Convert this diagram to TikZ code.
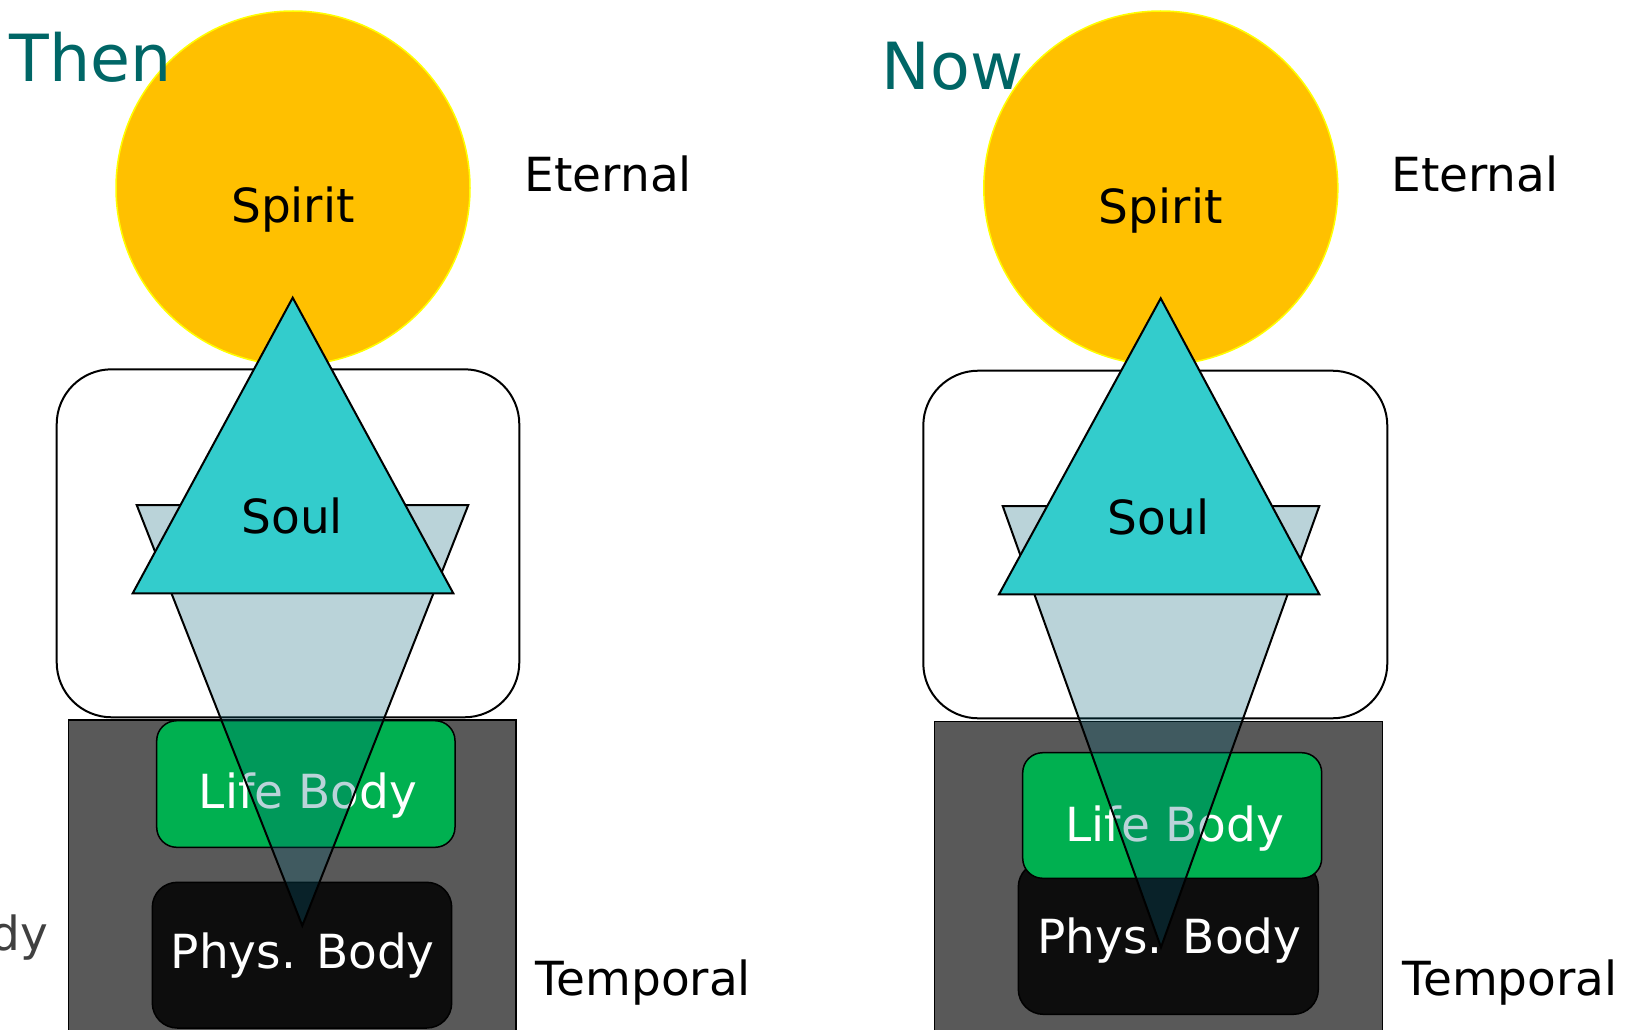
\documentclass[tikz,border=0pt]{standalone}
\usepackage{fontspec}
\setmainfont{DejaVu Sans}
\definecolor{spiritfill}{HTML}{FFC000}
\definecolor{spiritline}{HTML}{FFFF00}
\definecolor{soulcyan}{HTML}{33CCCC}
\definecolor{funnel}{RGB}{0,94,117}
\definecolor{lifegreen}{HTML}{00B050}
\definecolor{physblack}{HTML}{0D0D0D}
\definecolor{bodygray}{HTML}{595959}
\definecolor{titleteal}{HTML}{006666}
\definecolor{cutgray}{HTML}{404040}
\tikzset{
  lbl/.style={font=\fontsize{47}{56}\selectfont, inner sep=0pt, anchor=base},
  ttl/.style={font=\fontsize{65}{78}\selectfont, inner sep=0pt, anchor=base, text=titleteal},
  spiritdisc/.style={fill=spiritfill, draw=spiritline, line width=1.5},
  soulbox/.style={fill=white, draw=black, line width=2, rounded corners=55},
  bodyrect/.style={fill=bodygray, draw=black, line width=1.5},
  lifebox/.style={fill=lifegreen, draw=black, line width=1.5, rounded corners=20},
  physbox/.style={fill=physblack, draw=black, line width=1.5, rounded corners=25},
  funneltri/.style={fill=funnel, fill opacity=0.27, draw=black, line width=2, line join=miter},
  soultri/.style={fill=soulcyan, draw=black, line width=2, line join=miter},
}
\begin{document}
\begin{tikzpicture}[x=1pt,y=-1pt]
\useasboundingbox (0,0) rectangle (1633,1030);
\fill[white] (0,0) rectangle (1633,1030);

% ---------- Left panel (Then) ----------
\draw[spiritdisc] (293,188) circle (177);
\node[lbl] (spiritL) at (293,222.7) {Spirit};
\node[ttl] (then) at (90.7,81.7) {Then};
\node[lbl] (eternalL) at (608.3,191.7) {Eternal};
\draw[soulbox] (56.7,369.3) rectangle (519.3,717.3);
\draw[bodyrect] (68.3,720) rectangle (516,1040);
\draw[lifebox] (156.7,720.7) rectangle (455,847.3);
\node[lbl, text=white] (lifeL) at (308,808) {Life Body};
\draw[physbox] (152.3,882.3) rectangle (451.7,1028);
\node[lbl, text=white] (physL) at (302.8,968.3) {Phys. Body};
\draw[funneltri] (136.7,505) -- (468.3,505) -- (302.3,925.7) -- cycle;
\draw[soultri] (132.7,593.3) -- (453.3,593.3) -- (292.7,297.7) -- cycle;
\node[lbl] (soulL) at (292.3,533.3) {Soul};
\node[lbl] (temporalL) at (643.3,995) {Temporal};
\node[lbl, anchor=base east, text=cutgray] (cutbody) at (48,950) {Body};

% ---------- Right panel (Now) ----------
\draw[spiritdisc] (1160.8,188) circle (177);
\node[lbl] (spiritR) at (1160.7,223.3) {Spirit};
\node[ttl] (now) at (952.5,90) {Now};
\node[lbl] (eternalR) at (1475,191.7) {Eternal};
\draw[soulbox] (923.3,370.7) rectangle (1387.3,718.3);
\draw[bodyrect] (934.3,721.7) rectangle (1382.5,1040);
\draw[physbox] (1018.3,862) rectangle (1318.3,1014.3);
\node[lbl, text=white] (physR) at (1169.5,953.3) {Phys. Body};
\draw[lifebox] (1022.7,752.7) rectangle (1321.7,878.3);
\node[lbl, text=white] (lifeR) at (1174.8,841) {Life Body};
\draw[funneltri] (1002.7,506) -- (1319.3,506) -- (1161,947.3) -- cycle;
\draw[soultri] (999,594.3) -- (1319.3,594.3) -- (1160.7,298.3) -- cycle;
\node[lbl] (soulR) at (1158.3,534.3) {Soul};
\node[lbl] (temporalR) at (1510,995) {Temporal};
\end{tikzpicture}
\end{document}
